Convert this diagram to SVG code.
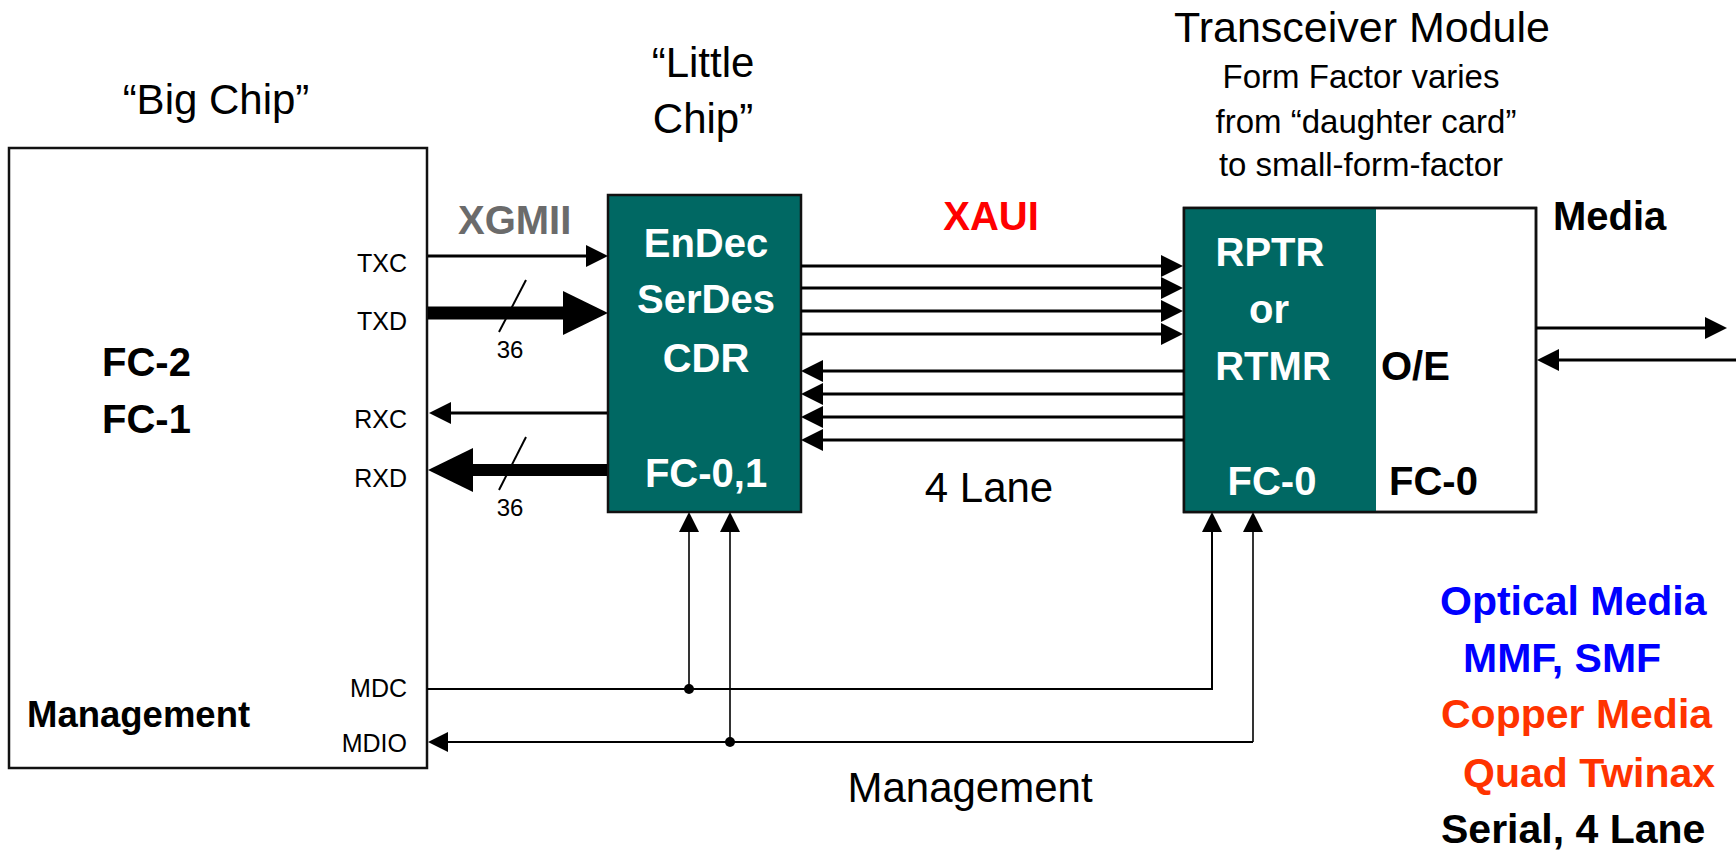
<svg xmlns="http://www.w3.org/2000/svg" width="1736" height="853" viewBox="0 0 1736 853">
<style>
text{font-family:"Liberation Sans",Arial,sans-serif;}
.b{font-weight:bold;}
.w{fill:#ffffff;}
.teal{fill:#006863;}
.box{stroke:#111;stroke-width:2.5;}
.ln{stroke:#000;stroke-width:3;fill:none;}
.thin{stroke:#000;stroke-width:2;fill:none;}
.vt{stroke:#000;stroke-width:1.6;fill:none;}
.sig{font-size:25px;text-anchor:end;}
.mid{text-anchor:middle;}
.leg{font-size:41px;font-weight:bold;}
</style>
<defs>
<marker id="ah" viewBox="0 -11 22 22" refX="0" refY="0" markerWidth="22" markerHeight="22" markerUnits="userSpaceOnUse" orient="auto"><path d="M0,-11 L22,0 L0,11 Z" fill="#000"/></marker>
<marker id="ahS" viewBox="0 -10 20 20" refX="0" refY="0" markerWidth="20" markerHeight="20" markerUnits="userSpaceOnUse" orient="auto"><path d="M0,-10 L20,0 L0,10 Z" fill="#000"/></marker>
<marker id="ahB" viewBox="0 -22 45 44" refX="0" refY="0" markerWidth="45" markerHeight="44" markerUnits="userSpaceOnUse" orient="auto"><path d="M0,-22 L45,0 L0,22 Z" fill="#000"/></marker>
</defs>
<rect width="1736" height="853" fill="#fff"/>

<g id="big-chip">
<text x="216" y="114" font-size="42" class="mid">“Big Chip”</text>
<rect x="9" y="148" width="418" height="620" fill="#fff" class="box"/>
<text x="102" y="376" font-size="40" class="b">FC-2</text>
<text x="102" y="433" font-size="40" class="b">FC-1</text>
<text x="27" y="727" font-size="36.5" class="b">Management</text>
<text x="407" y="272" class="sig">TXC</text>
<text x="407" y="330" class="sig">TXD</text>
<text x="407" y="428" class="sig">RXC</text>
<text x="407" y="487" class="sig">RXD</text>
<text x="407" y="697" class="sig">MDC</text>
<text x="407" y="752" class="sig">MDIO</text>
</g>

<g id="little-chip">
<text x="703" y="77" font-size="42" class="mid">“Little</text>
<text x="703" y="133" font-size="42" class="mid">Chip”</text>
<rect x="608" y="195" width="193" height="317" class="teal box"/>
<text x="706" y="257" font-size="40" class="b w mid">EnDec</text>
<text x="706" y="313" font-size="40" class="b w mid">SerDes</text>
<text x="706" y="372" font-size="40" class="b w mid">CDR</text>
<text x="706" y="487" font-size="40" class="b w mid">FC-0,1</text>
</g>

<g id="transceiver">
<text x="1362" y="42" font-size="43" class="mid">Transceiver Module</text>
<text x="1361" y="88" font-size="33" class="mid">Form Factor varies</text>
<text x="1366" y="133" font-size="33" class="mid">from “daughter card”</text>
<text x="1361" y="176" font-size="33" class="mid">to small-form-factor</text>
<rect x="1184" y="208" width="352" height="304" fill="#fff" class="box"/>
<rect x="1184" y="208" width="192" height="304" class="teal"/>
<rect x="1184" y="208" width="352" height="304" fill="none" class="box"/>
<text x="1270" y="266" font-size="40" class="b w mid">RPTR</text>
<text x="1269" y="323" font-size="40" class="b w mid">or</text>
<text x="1273" y="380" font-size="40" class="b w mid">RTMR</text>
<text x="1272" y="495" font-size="40" class="b w mid">FC-0</text>
<text x="1381" y="380" font-size="40" class="b">O/E</text>
<text x="1389" y="495" font-size="40" class="b">FC-0</text>
</g>

<g id="labels">
<text x="458" y="234" font-size="40" class="b" fill="#6b6b6b">XGMII</text>
<text x="991" y="230" font-size="40" class="b mid" fill="#ff0000">XAUI</text>
<text x="989" y="502" font-size="42" class="mid">4 Lane</text>
<text x="970" y="802" font-size="42" class="mid">Management</text>
<text x="1553" y="230" font-size="40" class="b">Media</text>
<text x="510" y="358" font-size="24" class="mid">36</text>
<text x="510" y="516" font-size="24" class="mid">36</text>
</g>

<g id="legend">
<text x="1440" y="615" class="leg" fill="#0000ff">Optical Media</text>
<text x="1463" y="672" class="leg" fill="#0000ff">MMF, SMF</text>
<text x="1441" y="728" class="leg" fill="#ff3300">Copper Media</text>
<text x="1463" y="787" class="leg" fill="#ff3300">Quad Twinax</text>
<text x="1441" y="843" class="leg">Serial, 4 Lane</text>
</g>

<g id="connectors">
<line x1="428" y1="256" x2="586" y2="256" class="ln" marker-end="url(#ah)"/>
<line x1="428" y1="313" x2="563" y2="313" stroke="#000" stroke-width="13" marker-end="url(#ahB)"/>
<line x1="526" y1="280" x2="499" y2="332" class="thin"/>
<line x1="607" y1="413" x2="451" y2="413" class="ln" marker-end="url(#ah)"/>
<line x1="607" y1="470" x2="473" y2="470" stroke="#000" stroke-width="12" marker-end="url(#ahB)"/>
<line x1="526" y1="437" x2="499" y2="490" class="thin"/>

<line x1="801" y1="266" x2="1161" y2="266" class="ln" marker-end="url(#ah)"/>
<line x1="801" y1="288" x2="1161" y2="288" class="ln" marker-end="url(#ah)"/>
<line x1="801" y1="311" x2="1161" y2="311" class="ln" marker-end="url(#ah)"/>
<line x1="801" y1="334" x2="1161" y2="334" class="ln" marker-end="url(#ah)"/>
<line x1="1184" y1="371" x2="823" y2="371" class="ln" marker-end="url(#ah)"/>
<line x1="1184" y1="394" x2="823" y2="394" class="ln" marker-end="url(#ah)"/>
<line x1="1184" y1="417" x2="823" y2="417" class="ln" marker-end="url(#ah)"/>
<line x1="1184" y1="440" x2="823" y2="440" class="ln" marker-end="url(#ah)"/>

<line x1="1536" y1="328" x2="1705" y2="328" class="ln" marker-end="url(#ah)"/>
<line x1="1736" y1="360" x2="1559" y2="360" class="ln" marker-end="url(#ah)"/>

<polyline points="427,689 1212,689 1212,532" class="thin" marker-end="url(#ahS)"/>
<line x1="689" y1="689" x2="689" y2="532" class="vt" marker-end="url(#ahS)"/>
<circle cx="689" cy="689" r="5" fill="#000"/>
<line x1="1253" y1="742" x2="448" y2="742" class="thin" marker-end="url(#ahS)"/>
<line x1="1253" y1="742" x2="1253" y2="532" class="vt" marker-end="url(#ahS)"/>
<line x1="730" y1="742" x2="730" y2="532" class="vt" marker-end="url(#ahS)"/>
<circle cx="730" cy="742" r="5" fill="#000"/>
</g>
</svg>
